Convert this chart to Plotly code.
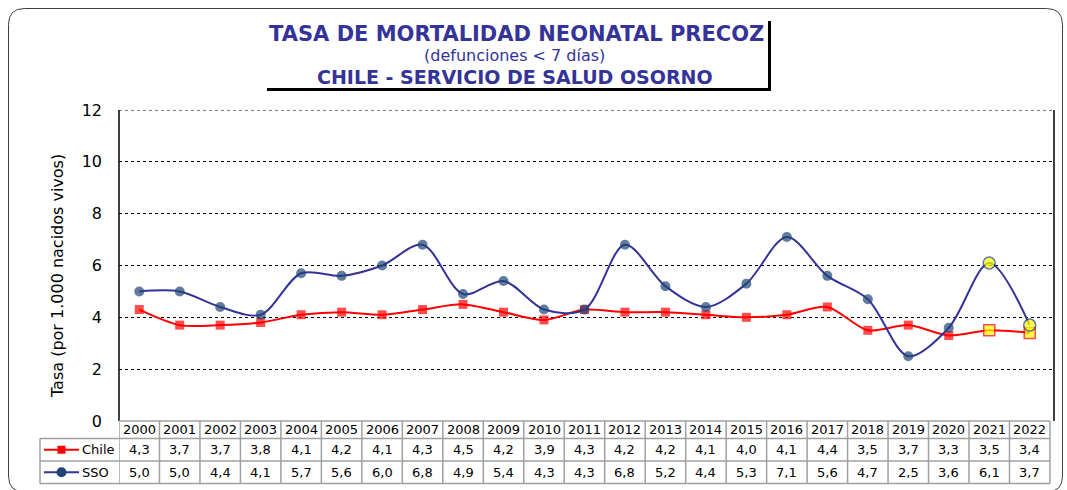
import plotly.graph_objects as go

years = [str(y) for y in range(2000, 2023)]
chile = [4.3, 3.7, 3.7, 3.8, 4.1, 4.2, 4.1, 4.3, 4.5, 4.2, 3.9, 4.3, 4.2, 4.2, 4.1, 4.0, 4.1, 4.4, 3.5, 3.7, 3.3, 3.5, 3.4]
sso = [5.0, 5.0, 4.4, 4.1, 5.7, 5.6, 6.0, 6.8, 4.9, 5.4, 4.3, 4.3, 6.8, 5.2, 4.4, 5.3, 7.1, 5.6, 4.7, 2.5, 3.6, 6.1, 3.7]
highlight_years = ["2021", "2022"]
series_names = ["Chile", "SSO"]
title_1 = "TASA DE MORTALIDAD NEONATAL PRECOZ"
title_2 = "(defunciones < 7 días)"
title_3 = "CHILE - SERVICIO DE SALUD OSORNO"
y_title = "Tasa (por 1.000 nacidos vivos)"
y_max = 12

W, H = 1067, 490
L, R, T, B = 119, 1054, 110, 421
FONT = "DejaVu Sans"
NAVY = "#333399"
RED = "#FF0000"
DOT = "#1F4475"
YEL = "#FFFF00"
GRID = "#A0A0A0"


def px(x):
    return (x - L) / (R - L)


def py(y):
    return (B - y) / (B - T)


xs = list(range(len(years)))
hl = [y in highlight_years for y in years]

fig = go.Figure()
fig.add_trace(go.Scatter(
    x=xs, y=chile, mode="lines+markers", name="Chile",
    line=dict(color=RED, width=2, shape="spline", smoothing=0.8),
    marker=dict(symbol="square",
                size=[11 if h else 9 for h in hl],
                color=[YEL if h else RED for h in hl],
                line=dict(color=RED, width=[1.5 if h else 0 for h in hl])),
    showlegend=False, cliponaxis=False))
fig.add_trace(go.Scatter(
    x=xs, y=sso, mode="lines+markers", name="SSO",
    line=dict(color=NAVY, width=2, shape="spline", smoothing=0.9),
    marker=dict(symbol="circle",
                size=[12 if h else 10 for h in hl],
                color=[YEL if h else DOT for h in hl],
                line=dict(color=DOT, width=[1.5 if h else 0 for h in hl])),
    showlegend=False, cliponaxis=False))

shapes = []
annotations = []

# outer rounded frame
x0, y0, x1, y1, r = 8.5, 8.5, 1062.5, 492, 16
path = (f"M {px(x0)},{py(y0 + r)} L {px(x0)},{py(y1 - r)} "
        f"Q {px(x0)},{py(y1)} {px(x0 + r)},{py(y1)} L {px(x1 - r)},{py(y1)} "
        f"Q {px(x1)},{py(y1)} {px(x1)},{py(y1 - r)} L {px(x1)},{py(y0 + r)} "
        f"Q {px(x1)},{py(y0)} {px(x1 - r)},{py(y0)} L {px(x0 + r)},{py(y0)} "
        f"Q {px(x0)},{py(y0)} {px(x0)},{py(y0 + r)} Z")
shapes.append(dict(type="path", xref="paper", yref="paper", path=path,
                   line=dict(color="#404040", width=1), layer="below"))

# title box shadow
shapes.append(dict(type="line", xref="paper", yref="paper", x0=px(769.5), x1=px(769.5),
                   y0=py(21), y1=py(91), line=dict(color="black", width=3)))
shapes.append(dict(type="line", xref="paper", yref="paper", x0=px(267), x1=px(771),
                   y0=py(89.5), y1=py(89.5), line=dict(color="black", width=3)))

annotations += [
    dict(text=f"<b>{title_1}</b>", x=px(516), y=py(34), xref="paper", yref="paper",
         showarrow=False, font=dict(family=FONT, size=21, color=NAVY), xanchor="center", yanchor="middle"),
    dict(text=title_2, x=px(514), y=py(56), xref="paper", yref="paper",
         showarrow=False, font=dict(family=FONT, size=16, color=NAVY), xanchor="center", yanchor="middle"),
    dict(text=f"<b>{title_3}</b>", x=px(515), y=py(77), xref="paper", yref="paper",
         showarrow=False, font=dict(family=FONT, size=19, color=NAVY), xanchor="center", yanchor="middle"),
    dict(text=y_title, x=px(57), y=py(276), xref="paper", yref="paper", textangle=-90,
         showarrow=False, font=dict(family=FONT, size=16, color="black"), xanchor="center", yanchor="middle"),
]

# plot border: left/right solid, top dotted (grid at max)
shapes.append(dict(type="line", xref="paper", yref="paper", x0=0, x1=0, y0=0, y1=1,
                   line=dict(color="black", width=1.5)))
shapes.append(dict(type="line", xref="paper", yref="paper", x0=1, x1=1, y0=0, y1=1,
                   line=dict(color="black", width=1.5)))
shapes.append(dict(type="line", xref="paper", yref="y", x0=0, x1=1, y0=y_max, y1=y_max,
                   line=dict(color="black", width=1, dash="dot")))

# data table
n = len(years)
row_y = [421, 438.5, 461, 483.5]  # pixel boundaries
leg_left = 40
shapes.append(dict(type="line", xref="x", yref="paper", x0=-0.5, x1=n - 0.5,
                   y0=py(row_y[0]), y1=py(row_y[0]), line=dict(color=GRID, width=1.5)))
for yy in row_y[1:]:
    shapes.append(dict(type="line", xref="paper", yref="paper", x0=px(leg_left), x1=px(L),
                       y0=py(yy), y1=py(yy), line=dict(color=GRID, width=1.5)))
    shapes.append(dict(type="line", xref="x", yref="paper", x0=-0.5, x1=n - 0.5,
                       y0=py(yy), y1=py(yy), line=dict(color=GRID, width=1.5)))
shapes.append(dict(type="line", xref="paper", yref="paper", x0=px(leg_left), x1=px(leg_left),
                   y0=py(row_y[1]), y1=py(row_y[3]), line=dict(color=GRID, width=1.5)))
for i in range(n + 1):
    shapes.append(dict(type="line", xref="x", yref="paper", x0=i - 0.5, x1=i - 0.5,
                       y0=py(row_y[0]), y1=py(row_y[3]), line=dict(color=GRID, width=1.5)))


def fmt(v):
    return f"{v:.1f}".replace(".", ",")


def cell(text, x, yc, xref="x", xanchor="center"):
    return dict(text=text, x=x, y=py(yc), xref=xref, yref="paper", showarrow=False,
                xanchor=xanchor, yanchor="middle",
                font=dict(family=FONT, size=13, color="black"))


for i, yr in enumerate(years):
    annotations.append(cell(yr, i, (row_y[0] + row_y[1]) / 2))
    annotations.append(cell(fmt(chile[i]), i, (row_y[1] + row_y[2]) / 2))
    annotations.append(cell(fmt(sso[i]), i, (row_y[2] + row_y[3]) / 2))

# legend keys
for k, (nm, col) in enumerate([(series_names[0], RED), (series_names[1], NAVY)]):
    yc = (row_y[1 + k] + row_y[2 + k]) / 2
    shapes.append(dict(type="line", xref="paper", yref="paper", x0=px(44), x1=px(79),
                       y0=py(yc), y1=py(yc), line=dict(color=col, width=2)))
    if k == 0:
        shapes.append(dict(type="rect", xref="paper", yref="paper", x0=px(57.5), x1=px(65.5),
                           y0=py(yc - 4), y1=py(yc + 4), fillcolor=RED, line=dict(width=0)))
    else:
        shapes.append(dict(type="circle", xref="paper", yref="paper", x0=px(56.5), x1=px(66.5),
                           y0=py(yc - 5), y1=py(yc + 5), fillcolor=DOT, line=dict(width=0)))
    annotations.append(cell(nm, px(80), yc, xref="paper", xanchor="left"))

fig.update_layout(
    width=W, height=H,
    margin=dict(l=L, r=W - R, t=T, b=H - B, pad=0),
    paper_bgcolor="white", plot_bgcolor="white",
    xaxis=dict(range=[-0.5, n - 0.4], showgrid=False, showticklabels=False, zeroline=False,
               showline=False, fixedrange=True),
    yaxis=dict(range=[0, y_max], dtick=2, tick0=0, showgrid=True, gridcolor="black", griddash="dot",
               gridwidth=1, zeroline=False, showline=False, ticks="", ticklabelstandoff=16,
               tickfont=dict(family=FONT, size=16, color="black"), fixedrange=True),
    shapes=shapes, annotations=annotations,
    font=dict(family=FONT),
)

fig.write_html("out.html", config={"displayModeBar": False},
               post_script="document.body.style.margin='0';document.body.style.overflow='hidden';")
